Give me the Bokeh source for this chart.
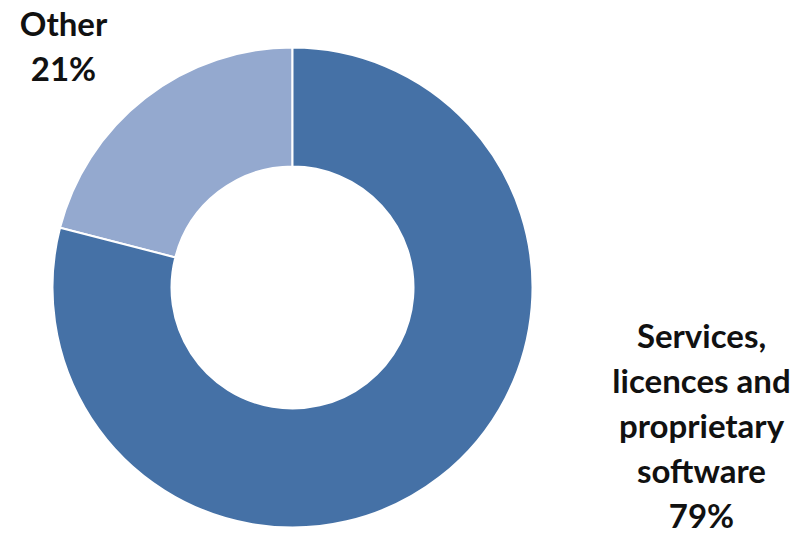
import numpy as np
from bokeh.plotting import figure
from bokeh.models import Range1d, ColumnDataSource
from bokeh.core.properties import value
from bokeh.embed import file_html
from bokeh.resources import INLINE

categories = ["Services, licences and proprietary software", "Other"]
values = [79, 21]
label_lines = [["Services,", "licences and", "proprietary", "software", "79%"], ["Other", "21%"]]
colors = ["#4571A6", "#94A9CF"]

W, H = 812, 535
p = figure(width=W, height=H, output_backend="svg", toolbar_location=None,
           x_range=Range1d(0, W), y_range=Range1d(0, H), min_border=0)
p.axis.visible = False
p.grid.visible = False
p.outline_line_color = None
p.background_fill_color = "white"

cx, cy = 292, H - 287
R_out, R_in = 240, 121

# Wedges: "Other" starts at 12 o'clock going counter-clockwise, services fill the rest
frac = np.array(values[::-1], dtype=float) / sum(values)
starts = np.pi / 2 + np.concatenate([[0], np.cumsum(frac)[:-1]]) * 2 * np.pi
ends = np.pi / 2 + np.cumsum(frac) * 2 * np.pi
src = ColumnDataSource(dict(start=starts, end=ends, color=colors[::-1]))
p.annular_wedge(x=cx, y=cy, inner_radius=R_in, outer_radius=R_out,
                start_angle="start", end_angle="end", direction="anticlock",
                fill_color="color", line_color="white", line_width=2, source=src)

# labels
anchors = [(701, H - 334), (63, H - 22)]
spacing = 45.2
xs, ys, ts = [], [], []
for (ax, ay), lines in zip(anchors, label_lines):
    for i, t in enumerate(lines):
        xs.append(ax)
        ys.append(ay - i * spacing)
        ts.append(t)
p.text(x=xs, y=ys, text=ts, text_font=value("Lato"), text_font_style="bold",
       text_font_size="33px", text_align="center", text_baseline="middle",
       text_color="#111111")

open("out.html", "w").write(file_html(p, INLINE))
